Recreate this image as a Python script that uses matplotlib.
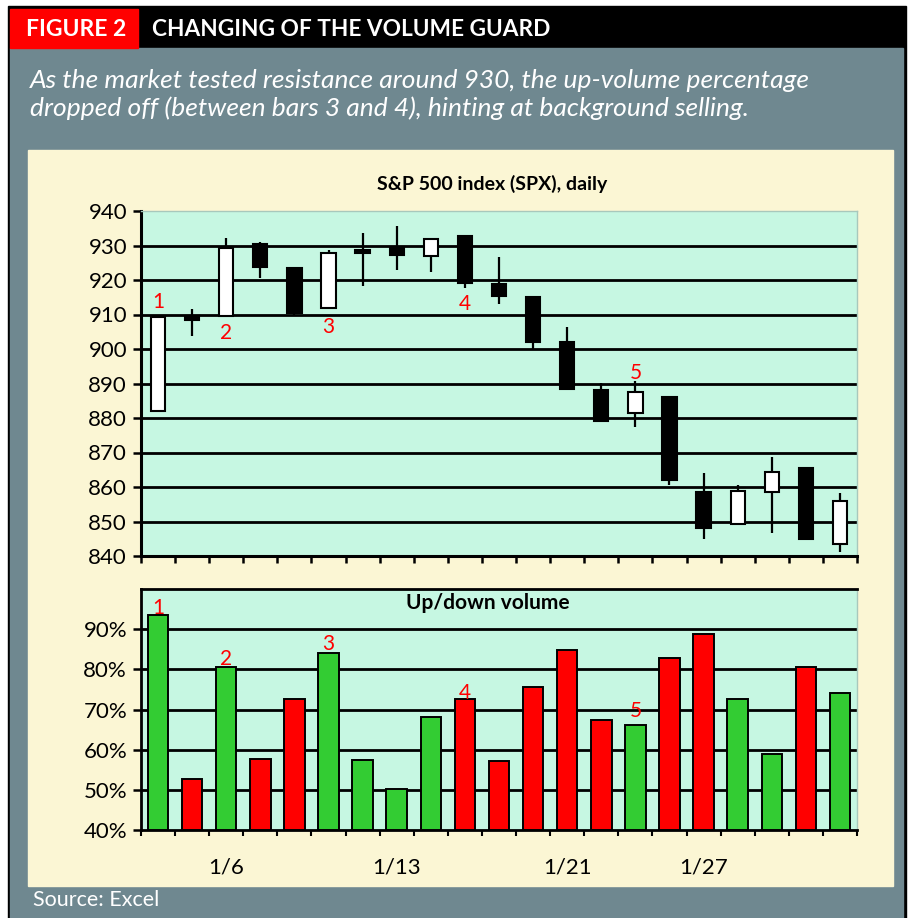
import matplotlib
matplotlib.use("Agg")
import matplotlib.pyplot as plt
from matplotlib.patches import Rectangle
import numpy as np

plt.rcParams['font.family'] = ['Lato', 'DejaVu Sans']

# 🔹 daily S&P 500 candles (open, high, low, close)
opens = [882.1, 909.5, 909.6, 930.4, 923.4, 911.8, 928.5, 929.5, 927.0, 932.8, 918.7,
         915.0, 901.9, 888.1, 881.5, 886.2, 858.6, 849.3, 858.6, 865.4, 843.6]
highs = [909.4, 911.5, 932.1, 931.0, 923.4, 928.7, 933.7, 935.7, 931.8, 932.8, 926.6,
         915.0, 906.5, 890.2, 890.7, 886.2, 864.2, 860.6, 868.8, 865.4, 858.4]
lows = [882.1, 903.8, 909.5, 920.5, 909.6, 911.5, 918.3, 922.9, 922.4, 917.6, 913.0,
        899.7, 888.3, 879.2, 877.5, 860.6, 844.8, 849.3, 846.6, 844.8, 841.2]
closes = [909.4, 908.5, 929.2, 923.7, 910.5, 927.9, 928.0, 927.2, 931.8, 919.2, 915.4,
          902.1, 888.3, 879.2, 887.6, 861.9, 848.0, 858.9, 864.4, 844.8, 856.0]

# 🔹 up/down volume percentage
up_volume = [93.5, 52.7, 80.6, 57.8, 72.7, 84.1, 57.4, 50.1, 68.2, 72.6, 57.2,
             75.5, 84.8, 67.5, 66.1, 82.7, 88.8, 72.7, 58.9, 80.6, 74.0]
vol_colors = ["g", "r", "g", "r", "r", "g", "g", "g", "g", "r", "r",
              "r", "r", "r", "g", "r", "r", "g", "g", "r", "g"]

date_labels = ["1/6", "1/13", "1/21", "1/27"]
date_idx = [2, 7, 12, 16]

marker_text = ["1", "2", "3", "4", "5"]
price_marker_idx = [0, 2, 5, 9, 14]
price_marker_y = [913.5, 904.5, 906.5, 913.0, 893.0]
vol_marker_idx = [0, 2, 5, 9, 14]
vol_marker_y = [95.3, 82.6, 86.4, 74.2, 69.6]

BEIGE = "#FBF6D4"
GRAY = "#6F8890"
MINT = "#C6F7E2"
GREEN = "#33CC33"
RED = "#FF0000"

fig = plt.figure(figsize=(9.11, 9.18), dpi=100)
W, H = 911, 918

def frect(x0, y0, x1, y1, color):
    fig.patches.append(Rectangle((x0 / W, 1 - y1 / H), (x1 - x0) / W, (y1 - y0) / H,
                                 transform=fig.transFigure, color=color, zorder=-10))

# 🔹 frame / header
frect(8, 6, 906, 918, "black")
frect(10, 48, 903, 918, GRAY)
frect(10, 9, 138, 48, "#FF0000")
frect(28, 150, 893, 886, BEIGE)
fig.text(76 / W, 1 - 29 / H, "FIGURE 2", color="white", fontsize=16.5, fontweight="bold",
         ha="center", va="center")
fig.text(152 / W, 1 - 29 / H, "CHANGING OF THE VOLUME GUARD", color="white", fontsize=16.3,
         fontweight="bold", ha="left", va="center")
fig.text(30 / W, 1 - 80 / H, "As the market tested resistance around 930, the up-volume percentage",
         color="white", fontsize=19, style="italic", ha="left", va="center")
fig.text(30 / W, 1 - 108 / H, "dropped off (between bars 3 and 4), hinting at background selling.",
         color="white", fontsize=19, style="italic", ha="left", va="center")
fig.text(33 / W, 1 - 900 / H, "Source: Excel", color="white", fontsize=15.5,
         ha="left", va="center")

n = len(opens)
x = np.arange(n)

# 🟦 price chart
ax = fig.add_axes([141 / W, 1 - 556 / H, 716 / W, 345 / H])
ax.set_facecolor(MINT)
ax.set_xlim(-0.5, n - 0.5)
ax.set_ylim(840, 940)
ax.set_yticks(np.arange(840, 941, 10))
for v in np.arange(850, 940, 10):
    ax.axhline(v, color="black", lw=2, zorder=1)
ax.vlines(x, lows, highs, color="black", lw=1.6, zorder=2)
for i in range(n):
    lo = min(opens[i], closes[i])
    hi = max(opens[i], closes[i])
    body = max(hi - lo, 1.0)
    up = closes[i] >= opens[i]
    ax.bar(x[i], body, bottom=lo - (body - (hi - lo)) / 2, width=0.42,
           color="white" if up else "black", edgecolor="black", lw=1.5, zorder=3)
for t, i, yv in zip(marker_text, price_marker_idx, price_marker_y):
    ax.text(x[i], yv, t, color="red", fontsize=15, ha="center", va="center", zorder=4)
ax.set_xticks(np.arange(-0.5, n, 1))
ax.set_xticklabels([])
ax.tick_params(axis="x", direction="out", length=5, width=1.8, color="black")
ax.tick_params(axis="y", direction="out", length=6, width=1.8, color="black",
               labelsize=16, pad=4)
for s in ["left", "bottom"]:
    ax.spines[s].set_color("black")
    ax.spines[s].set_linewidth(2.2)
for s in ["top", "right"]:
    ax.spines[s].set_color("#A8C8BC")
    ax.spines[s].set_linewidth(1)
fig.text(492 / W, 1 - 184 / H, "S&P 500 index (SPX), daily", fontsize=14, fontweight="bold",
         ha="center", va="center")

# 🟩 up/down volume chart
ax2 = fig.add_axes([141 / W, 1 - 830 / H, 716 / W, 241 / H])
ax2.set_facecolor(MINT)
ax2.set_xlim(-0.5, n - 0.5)
ax2.set_ylim(40, 100)
for v in np.arange(50, 100, 10):
    ax2.axhline(v, color="black", lw=2, zorder=1)
ax2.bar(x, np.array(up_volume) - 40, bottom=40, width=0.6,
        color=[GREEN if c == "g" else RED for c in vol_colors],
        edgecolor="black", lw=1.4, zorder=3)
for t, i, yv in zip(marker_text, vol_marker_idx, vol_marker_y):
    ax2.text(x[i], yv, t, color="red", fontsize=15, ha="center", va="center", zorder=4)
ax2.set_yticks(np.arange(40, 91, 10))
ax2.set_yticklabels([f"{v}%" for v in range(40, 91, 10)])
ax2.set_xticks(np.arange(-0.5, n, 1))
ax2.set_xticklabels([])
ax2.set_xticks(date_idx, minor=True)
ax2.set_xticklabels(date_labels, minor=True)
ax2.tick_params(axis="x", which="major", direction="out", length=4, width=1.5, color="black")
ax2.tick_params(axis="x", which="minor", length=0, labelsize=16, pad=20)
ax2.tick_params(axis="y", direction="out", length=6, width=1.8, color="black",
                labelsize=16, pad=4)
for s in ["left", "bottom", "top"]:
    ax2.spines[s].set_color("black")
    ax2.spines[s].set_linewidth(2.0)
ax2.spines["right"].set_color("#A8C8BC")
ax2.spines["right"].set_linewidth(1)
ax2.text(0.485, 96.5, "Up/down volume", transform=ax2.get_yaxis_transform(), fontsize=15,
         fontweight="bold", ha="center", va="center")

fig.savefig("out.png", dpi=100)
